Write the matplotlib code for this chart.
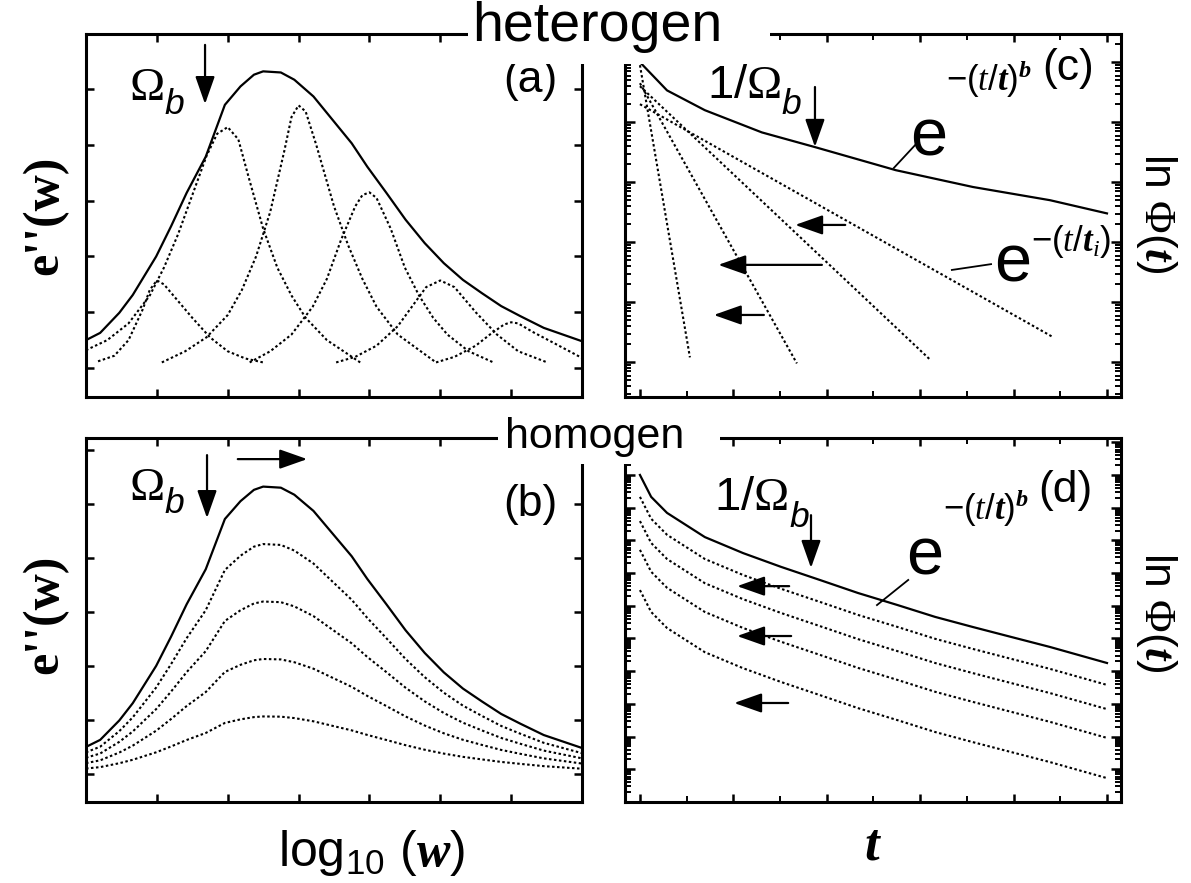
import numpy as np
import matplotlib.pyplot as plt
from matplotlib.patches import Rectangle

plt.rcParams['font.family'] = ['Liberation Sans', 'DejaVu Sans']
plt.rcParams['mathtext.fontset'] = 'custom'
plt.rcParams['mathtext.rm'] = 'Liberation Serif'
plt.rcParams['mathtext.sf'] = 'Liberation Sans'
plt.rcParams['mathtext.it'] = 'Liberation Sans:italic'
plt.rcParams['mathtext.cal'] = 'Liberation Serif:italic'
plt.rcParams['mathtext.bf'] = 'Liberation Serif:bold'
plt.rcParams['mathtext.bfit'] = 'Liberation Serif:bold:italic'

# ---- panels (a), (b): loss spectra vs log10(w) ----
env_x = [0, 0.2, 0.47, 0.66, 0.99, 1.2, 1.42, 1.69, 1.96, 2.18, 2.37, 2.5, 2.75, 2.94,
         3.21, 3.48, 3.75, 3.97, 4.24, 4.51, 4.78, 5.05, 5.32, 5.59, 5.86, 6.13, 6.46, 6.73, 7.0]
env_y = [0.5, 0.63, 0.99, 1.31, 2.0, 2.54, 3.14, 3.79, 4.72, 5.05, 5.26, 5.32, 5.3, 5.17,
         4.87, 4.45, 4.03, 3.61, 3.14, 2.66, 2.24, 1.88, 1.58, 1.34, 1.11, 0.93, 0.72, 0.6, 0.48]

# single relaxation peaks (heterogeneous picture)
p1_x = [0.17, 0.4, 0.6, 0.8, 0.9, 1.0, 1.1, 1.3, 1.5, 1.75, 2.0, 2.25, 2.5]
p1_y = [0.12, 0.22, 0.5, 1.05, 1.4, 1.57, 1.5, 1.2, 0.9, 0.55, 0.3, 0.17, 0.1]
p2_x = [0, 0.3, 0.6, 0.9, 1.1, 1.3, 1.5, 1.7, 1.85, 2.0, 2.15, 2.3, 2.5, 2.7, 2.9, 3.1, 3.4, 3.87]
p2_y = [0.32, 0.5, 0.8, 1.3, 1.8, 2.4, 3.1, 3.8, 4.2, 4.32, 4.1, 3.4, 2.5, 1.8, 1.3, 0.9, 0.5, 0.1]
p3_x = [1.07, 1.4, 1.7, 2.0, 2.2, 2.4, 2.6, 2.8, 2.9, 3.0, 3.1, 3.25, 3.5, 3.7, 3.9, 4.1, 4.4, 4.94]
p3_y = [0.1, 0.3, 0.55, 0.95, 1.4, 2.0, 2.8, 3.9, 4.5, 4.71, 4.6, 4.0, 2.9, 2.2, 1.6, 1.1, 0.6, 0.1]
p4_x = [2.31, 2.6, 2.9, 3.2, 3.4, 3.6, 3.8, 3.9, 4.0, 4.1, 4.3, 4.5, 4.7, 4.9, 5.1, 5.4, 5.75]
p4_y = [0.1, 0.3, 0.6, 1.1, 1.6, 2.3, 2.9, 3.1, 3.15, 3.05, 2.5, 1.8, 1.3, 0.9, 0.6, 0.3, 0.1]
p5_x = [3.53, 3.8, 4.1, 4.4, 4.6, 4.8, 5.0, 5.2, 5.5, 5.8, 6.1, 6.51]
p5_y = [0.1, 0.2, 0.4, 0.75, 1.1, 1.45, 1.57, 1.45, 1.0, 0.6, 0.3, 0.1]
p6_x = [4.94, 5.2, 5.5, 5.7, 5.9, 6.0, 6.1, 6.3, 6.6, 7.0]
p6_y = [0.1, 0.2, 0.4, 0.6, 0.78, 0.82, 0.8, 0.65, 0.45, 0.18]
peaks = [(p1_x, p1_y), (p2_x, p2_y), (p3_x, p3_y), (p4_x, p4_y), (p5_x, p5_y), (p6_x, p6_y)]

# homogeneous picture: same shape, reduced amplitude
homo_amp = [0.8, 0.6, 0.4, 0.2]

# ---- panels (c), (d): log10 Phi(t) vs t ----
kww_c_t = [0, 0.58, 1.39, 2.61, 3.77, 5.48, 7.13, 8.78, 10.0]
kww_c_lg = [0, -0.47, -0.8, -1.17, -1.42, -1.8, -2.08, -2.3, -2.52]
# single exponentials: start/end points (straight on log axis)
exp_t = [[0, 1.07], [0, 3.36], [0, 6.23], [0, 8.84]]
exp_lg = [[-0.05, -4.92], [-0.35, -5.02], [-0.4, -4.97], [-0.7, -4.58]]

kww_d_t = [0, 0.24, 0.58, 1.39, 2.21, 3.02, 3.85, 4.67, 5.52, 6.32, 7.13, 7.94, 8.78, 10.0]
kww_d_lg = [0, -0.67, -1.16, -1.9, -2.39, -2.81, -3.21, -3.61, -3.98, -4.34, -4.65,
            -4.95, -5.26, -5.75]
homo_shift = [0.67, 1.41, 2.29, 3.52]

W, H = 1191, 883
fig = plt.figure(figsize=(W / 100, H / 100), dpi=100)


def rect(x0, x1, top, bot):
    return [x0 / W, 1 - bot / H, (x1 - x0) / W, (bot - top) / H]


ax_a = fig.add_axes(rect(86, 582, 34, 397))
ax_b = fig.add_axes(rect(86, 582, 438, 802))
ax_c = fig.add_axes(rect(625, 1121, 34, 397))
ax_d = fig.add_axes(rect(625, 1121, 438, 802))

dot = dict(color='k', lw=1.5, ls=(0, (1.2, 1.2)))
sol = dict(color='k', lw=1.6)

ax_a.plot(env_x, env_y, **sol)
for px, py in peaks:
    ax_a.plot(px, py, **dot)

ax_b.plot(env_x, env_y, **sol)
for a in homo_amp:
    ax_b.plot(env_x, np.array(env_y) * a, **dot)

ax_c.plot(kww_c_t, np.power(10.0, kww_c_lg), **sol)
for tt, ll in zip(exp_t, exp_lg):
    ax_c.plot(tt, np.power(10.0, ll), **dot)

ax_d.plot(kww_d_t, np.power(10.0, kww_d_lg), **sol)
for s in homo_shift:
    ax_d.plot(kww_d_t, np.power(10.0, np.array(kww_d_lg) - s), **dot)

for ax in (ax_a, ax_b):
    ax.set_xlim(0, 7)
    ax.set_xticks(range(1, 7))
ax_a.set_ylim(-0.52, 5.99)
ax_a.set_yticks(range(0, 6))
ax_b.set_ylim(-0.52, 6.22)
ax_b.set_yticks(range(0, 7))

for ax in (ax_c, ax_d):
    ax.set_xlim(-0.32, 10.3)
    ax.set_xticks(range(0, 11, 2))
    ax.set_xticks(range(1, 11, 2), minor=True)
    ax.set_yscale('log')
ax_c.set_ylim(10 ** -5.58, 10 ** 0.47)
ax_d.set_ylim(10 ** -10.0, 10 ** 1.13)

for ax in (ax_a, ax_b, ax_c, ax_d):
    for s in ax.spines.values():
        s.set_linewidth(2.2)
    ax.tick_params(which='major', direction='in', length=6, width=1.8,
                   top=True, right=True, labelleft=False, labelbottom=False)
    ax.tick_params(which='minor', direction='in', length=4.5, width=1.4,
                   top=True, right=True, labelleft=False, labelbottom=False)
for ax in (ax_a, ax_b):
    ax.tick_params(which='minor', left=False, right=False, top=False, bottom=False)
for ax in (ax_c, ax_d):
    ax.yaxis.set_minor_locator(plt.matplotlib.ticker.LogLocator(base=10, subs=np.arange(2, 10), numticks=40))
    ax.yaxis.set_major_locator(plt.matplotlib.ticker.LogLocator(base=10, numticks=40))
    ax.yaxis.set_minor_formatter(plt.NullFormatter())
    ax.tick_params(axis='y', which='major', length=7.5)

# ---- white gaps with the scenario labels ----
fig.patches.append(Rectangle((468 / W, 1 - 64 / H), 302 / W, 64 / H, transform=fig.transFigure,
                             fc='white', ec='none', zorder=5))
fig.patches.append(Rectangle((498 / W, 1 - 464 / H), 222 / W, 48 / H, transform=fig.transFigure,
                             fc='white', ec='none', zorder=5))
fig.text(597 / W, 1 - 27 / H, 'heterogen', fontsize=40, ha='center', va='center', zorder=6)
fig.text(595 / W, 1 - 437 / H, 'homogen', fontsize=31, ha='center', va='center', zorder=6)

# ---- axis labels ----
for yc in (215, 614):
    fig.text(45 / W, 1 - yc / H, "e''(w)", fontsize=36, family='Liberation Serif',
             weight='bold', rotation=90, ha='center', va='center')
for yc in (213, 612):
    fig.text(1157 / W, 1 - yc / H, r"ln $\Phi$($\mathbfit{t}$)", fontsize=32,
             rotation=270, ha='center', va='center')
fig.text(371 / W, 1 - 866 / H, r"log$_{\mathsf{10}}$ ($\mathbfit{w}$)", fontsize=36,
         ha='center', va='baseline')
fig.text(873 / W, 1 - 860 / H, r"$\mathbfit{t}$", fontsize=38, ha='center', va='baseline')

# ---- panel letters ----
for ax, lab, (fx, fy) in [(ax_a, '(a)', (0.895, 0.873)), (ax_b, '(b)', (0.895, 0.816)),
                          (ax_c, '(c)', (0.893, 0.906)), (ax_d, '(d)', (0.887, 0.857))]:
    ax.text(fx, fy, lab, transform=ax.transAxes, fontsize=32, ha='center', va='center')


def arrow(ax, x0, y0, x1, y1):
    ax.annotate('', xy=(x1, y1), xytext=(x0, y0), xycoords='axes fraction',
                arrowprops=dict(arrowstyle='-|>,head_length=0.85,head_width=0.3',
                                mutation_scale=20, lw=1.6, color='k',
                                shrinkA=0, shrinkB=0))


def omega(ax, fx, fy, prefix='', size=34, drop=-7.5):
    t = ax.text(fx, fy, prefix + r'$\Omega$', transform=ax.transAxes, fontsize=size,
                ha='center', va='center')
    ax.annotate(r'$\mathit{b}$', xy=(1, 0), xycoords=t, xytext=(0, drop),
                textcoords='offset points', fontsize=size * 0.75, ha='left', va='bottom')


# (a)
omega(ax_a, 0.122, 0.851)
arrow(ax_a, 0.240, 0.970, 0.240, 0.807)
# (b)
omega(ax_b, 0.122, 0.863)
arrow(ax_b, 0.244, 0.953, 0.244, 0.780)
arrow(ax_b, 0.306, 0.942, 0.446, 0.942)

exp_b = r"$\mathsf{-(}\mathcal{t}\mathsf{/}\mathbfit{t}\mathsf{)}^{\mathbfit{b}}$"
exp_i = r"$\mathsf{-(}\mathcal{t}\mathsf{/}\mathbfit{t}_{\mathcal{i}}\mathsf{)}$"

# (c)
omega(ax_c, 0.240, 0.858, prefix=r'$\mathsf{1/}$', drop=-10)
arrow(ax_c, 0.383, 0.854, 0.383, 0.689)
ax_c.text(0.613, 0.713, 'e', transform=ax_c.transAxes, fontsize=48, ha='center', va='center')
ax_c.text(0.648, 0.877, exp_b, transform=ax_c.transAxes, fontsize=25, ha='left', va='center')
ax_c.plot([0.589, 0.542], [0.700, 0.631], color='k', lw=1.3, transform=ax_c.transAxes)
ax_c.text(0.782, 0.364, 'e', transform=ax_c.transAxes, fontsize=48, ha='center', va='center')
ax_c.text(0.818, 0.428, exp_i, transform=ax_c.transAxes, fontsize=25, ha='left', va='center')
ax_c.plot([0.659, 0.738], [0.350, 0.366], color='k', lw=1.3, transform=ax_c.transAxes)
arrow(ax_c, 0.444, 0.474, 0.343, 0.474)
arrow(ax_c, 0.397, 0.364, 0.188, 0.364)
arrow(ax_c, 0.280, 0.226, 0.179, 0.226)

# (d)
omega(ax_d, 0.255, 0.834, prefix=r'$\mathsf{1/}$', drop=-10)
arrow(ax_d, 0.375, 0.788, 0.375, 0.643)
ax_d.text(0.605, 0.673, 'e', transform=ax_d.transAxes, fontsize=48, ha='center', va='center')
ax_d.text(0.641, 0.808, exp_b, transform=ax_d.transAxes, fontsize=25, ha='left', va='center')
ax_d.plot([0.571, 0.508], [0.610, 0.541], color='k', lw=1.3, transform=ax_d.transAxes)
arrow(ax_d, 0.331, 0.593, 0.226, 0.593)
arrow(ax_d, 0.335, 0.456, 0.226, 0.456)
arrow(ax_d, 0.329, 0.272, 0.220, 0.272)

fig.savefig('out.png', dpi=100)
